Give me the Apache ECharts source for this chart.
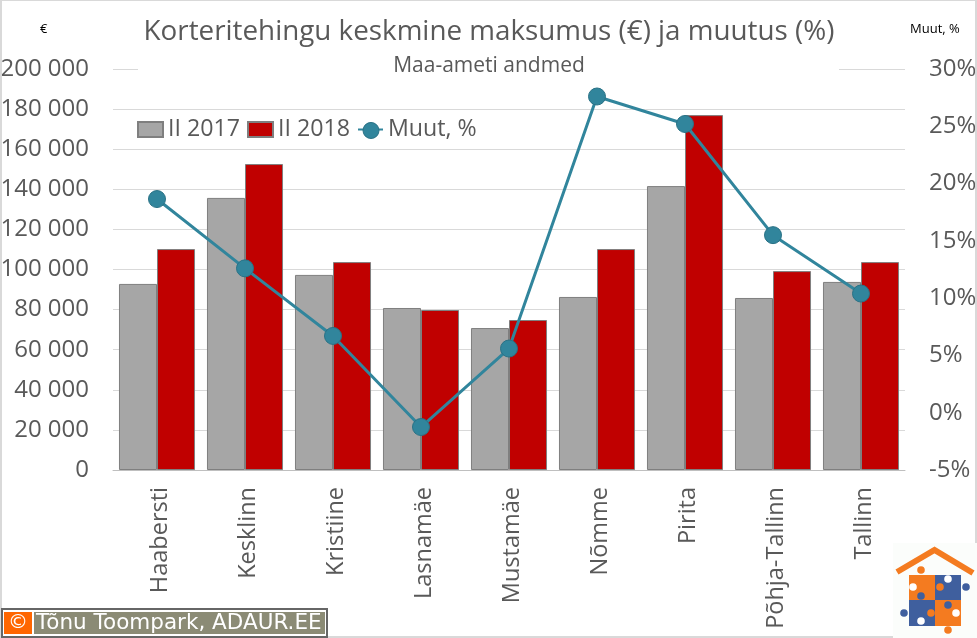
<!DOCTYPE html>
<html><head><meta charset="utf-8">
<style>html,body{margin:0;padding:0;background:#fff}#c{width:977px;height:638px}</style>
<script src="https://cdn.jsdelivr.net/npm/echarts@6/dist/echarts.min.js"></script>
</head><body><div id="c"></div>
<script>
const categories=['Haabersti','Kesklinn','Kristiine','Lasnamäe','Mustamäe','Nõmme','Pirita','Põhja-Tallinn','Tallinn'];
const values2017=[92800,135700,97300,80800,70800,86300,141600,85800,93800];
const values2018=[110200,152600,103700,79800,74800,110200,177000,99200,103700];
const change=[18.65,12.6,6.7,-1.25,5.6,27.6,25.2,15.5,10.4];
const names=['II 2017','II 2018','Muut, %'];
const titleText='Korteritehingu keskmine maksumus (€) ja muutus (%)';
const subtitleText='Maa-ameti andmed';
const credit='Tõnu Toompark, ADAUR.EE';
const font='"Open Sans"';
const grey='#595959', teal='#31859c', orange='#f47b20', blue='#3f5f9e';
const chart=echarts.init(document.getElementById('c'),null,{renderer:'canvas'});
const knobs=[[921,570,orange],[966,587,blue],[948,579,'#fff'],[913,587,'#fff'],[940,587,orange],[921,596,blue],[948,605,blue],[904,613,blue],[931,613,orange],[956,613,'#fff'],[921,621,'#fff'],[948,630,orange]];
const logo=[
 {type:'rect',shape:{x:893,y:543,width:84,height:95},style:{fill:'#fbfdfb'},z:7},
 {type:'polyline',shape:{points:[[897,572],[934.5,550],[973,573]]},style:{stroke:orange,lineWidth:6,fill:null},z:8},
 {type:'rect',shape:{x:909,y:575,width:26,height:25},style:{fill:orange},z:8},
 {type:'rect',shape:{x:935,y:575,width:26,height:25},style:{fill:blue},z:8},
 {type:'rect',shape:{x:909,y:600,width:26,height:26},style:{fill:blue},z:8},
 {type:'rect',shape:{x:935,y:600,width:26,height:26},style:{fill:orange},z:8},
 ...knobs.map(k=>({type:'circle',shape:{cx:k[0],cy:k[1],r:3.8},style:{fill:k[2]},z:9}))
];
chart.setOption({
 animation:false,
 backgroundColor:'#fff',
 textStyle:{fontFamily:font},
 title:[
  {text:titleText,left:484,top:13,textAlign:'center',textStyle:{fontFamily:font,fontSize:27.8,fontWeight:'normal',color:grey}},
  {text:subtitleText,left:484,top:51,textAlign:'center',textStyle:{fontFamily:font,fontSize:21,fontWeight:'normal',color:grey}}
 ],
 legend:{left:137,top:118,padding:0,itemWidth:25,itemHeight:15,itemGap:7,
  data:[{name:names[0],icon:'rect'},{name:names[1],icon:'rect'},{name:names[2]}],
  textStyle:{fontFamily:font,fontSize:23.2,color:grey}},
 grid:{left:113,right:72,top:69,bottom:168,outerBoundsMode:'none'},
 xAxis:{type:'category',data:categories,
  axisLine:{lineStyle:{color:'#bfbfbf'}},axisTick:{show:false},
  axisLabel:{rotate:90,interval:0,margin:17,verticalAlign:'top',lineHeight:6,fontFamily:font,fontSize:23.5,color:grey}},
 yAxis:[
  {type:'value',min:0,max:200000,interval:20000,
   axisLine:{show:false},axisTick:{show:false},
   splitLine:{lineStyle:{color:'#d9d9d9',width:1}},
   axisLabel:{margin:24,fontFamily:font,fontSize:24,color:grey,formatter:v=>String(v).replace(/\B(?=(\d{3})+$)/g,' ')}},
  {type:'value',min:-5,max:30,interval:5,
   axisLine:{show:false},axisTick:{show:false},splitLine:{show:false},
   axisLabel:{margin:24,fontFamily:font,fontSize:24,color:grey,formatter:'{value}%'}}
 ],
 series:[
  {name:names[0],type:'bar',data:values2017,barGap:0,barCategoryGap:'13.6%',z:2,
   itemStyle:{color:'#a6a6a6',borderColor:'#7f7f7f',borderWidth:1}},
  {name:names[1],type:'bar',data:values2018,z:2,
   itemStyle:{color:'#c00000',borderColor:'#7f7f7f',borderWidth:1}},
  {name:names[2],type:'line',yAxisIndex:1,data:change,z:3,symbol:'circle',symbolSize:17,
   lineStyle:{color:teal,width:3},itemStyle:{color:teal,borderColor:'#2a7286',borderWidth:1}}
 ],
 graphic:[
  {type:'rect',shape:{x:138,y:60,width:701,height:20},style:{fill:'#fff'},z:1},
  {type:'circle',shape:{cx:371,cy:130.5,r:8},style:{fill:teal,stroke:'#2a7286',lineWidth:1},z:10},
  {type:'text',left:40,top:23,style:{text:'€',font:'13px "Open Sans"',fill:'#000'},z:5},
  {type:'text',left:910,top:23,style:{text:'Muut, %',font:'13px "Open Sans"',fill:'#000'},z:5},
  {type:'rect',shape:{x:1,y:0,width:975,height:637},style:{fill:null,stroke:'#d9d9d9',lineWidth:2},z:6},
  ...logo,
  {type:'rect',shape:{x:2,y:609,width:325,height:28},style:{fill:'#fff',stroke:'#666',lineWidth:2},z:7},
  {type:'rect',shape:{x:4,y:612,width:28,height:22},style:{fill:'#ff6600'},z:8},
  {type:'rect',shape:{x:34,y:612,width:291,height:22},style:{fill:'#8b8b75'},z:8},
  {type:'text',x:18,y:623,style:{text:'©',font:'20px "DejaVu Sans"',fill:'#fff',align:'center',verticalAlign:'middle'},z:9},
  {type:'text',x:36,y:623,style:{text:credit,font:'21.5px "DejaVu Sans"',fill:'#fff',align:'left',verticalAlign:'middle'},z:9}
 ]
});
</script></body></html>
